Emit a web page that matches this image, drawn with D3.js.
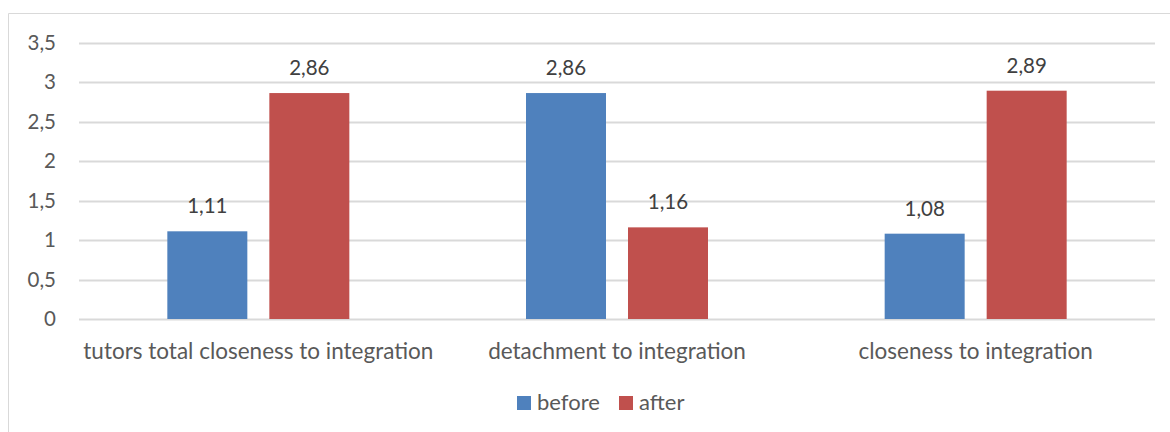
<!DOCTYPE html>
<html>
<head>
<meta charset="utf-8">
<script src="https://cdn.jsdelivr.net/npm/d3@7"></script>
<style>
  html, body { margin: 0; padding: 0; background: #fff; }
  svg text { font-family: Lato, "Open Sans", sans-serif; }
</style>
</head>
<body>
<svg id="chart" width="1170" height="432"></svg>
<script>
// Chart data
const categories = [
  "tutors total closeness to integration",
  "detachment to integration",
  "closeness to integration"
];
const seriesNames = ["before", "after"];
const beforeValues = [1.11, 2.86, 1.08];
const afterValues = [2.86, 1.16, 2.89];
const yTicks = [0, 0.5, 1, 1.5, 2, 2.5, 3, 3.5];
const seriesColors = ["#4f81bd", "#c0504d"];

const fmt = v => String(v).replace(".", ",");

const svg = d3.select("#chart");
const W = 1170, H = 432;

// Outer chart frame (left and top edges visible)
svg.append("path")
  .attr("d", `M8.5,${H} V13.5 H${W}`)
  .attr("fill", "none")
  .attr("stroke", "#d9d9d9")
  .attr("stroke-width", 1);

const plot = { left: 79, right: 1155, top: 42.5, bottom: 319 };

const y = d3.scaleLinear().domain([0, 3.5]).range([plot.bottom, plot.top]);
const x0 = d3.scaleBand().domain(categories).range([plot.left, plot.right]).paddingInner(0).paddingOuter(0);
const x1 = d3.scaleBand().domain(seriesNames).range([0, x0.bandwidth()]).paddingInner(0.2157).paddingOuter(0.866);

// Gridlines
svg.append("g").selectAll("line").data(yTicks).join("line")
  .attr("x1", plot.left).attr("x2", plot.right)
  .attr("y1", d => Math.round(y(d)) + 0.5).attr("y2", d => Math.round(y(d)) + 0.5)
  .attr("stroke", "#d9d9d9").attr("stroke-width", 2);

// Y axis tick labels
const yAxis = d3.axisLeft(y).tickValues(yTicks).tickFormat(fmt).tickSize(0).tickPadding(0);
const gy = svg.append("g").attr("transform", `translate(56,0)`).call(yAxis);
gy.select(".domain").remove();
gy.selectAll("text")
  .attr("fill", "#595959")
  .style("font-size", "20.5px")
  .style("font-family", "Lato, sans-serif");

// Bars
const series = [beforeValues, afterValues];
const groups = svg.append("g").selectAll("g").data(categories).join("g")
  .attr("transform", d => `translate(${x0(d)},0)`);

groups.selectAll("rect")
  .data((c, i) => seriesNames.map((s, k) => ({ s, v: series[k][i], k })))
  .join("rect")
  .attr("x", d => x1(d.s))
  .attr("width", x1.bandwidth())
  .attr("y", d => y(d.v))
  .attr("height", d => y(0) - y(d.v))
  .attr("fill", d => seriesColors[d.k]);

// Data labels
groups.selectAll("text.val")
  .data((c, i) => seriesNames.map((s, k) => ({ s, v: series[k][i], k })))
  .join("text")
  .attr("class", "val")
  .attr("x", d => x1(d.s) + x1.bandwidth() / 2)
  .attr("y", d => y(d.v) - 18)
  .attr("text-anchor", "middle")
  .attr("fill", "#404040")
  .style("font-size", "20.5px")
  .text(d => fmt(d.v));

// Category axis labels
const xAxis = d3.axisBottom(x0).tickSize(0).tickPadding(0);
const gx = svg.append("g").attr("transform", `translate(0,${plot.bottom})`).call(xAxis);
gx.select(".domain").remove();
gx.selectAll("text")
  .attr("dy", 0)
  .attr("y", 40)
  .attr("fill", "#595959")
  .style("font-size", "22.5px")
  .style("font-family", "Lato, sans-serif");

// Legend
const legend = svg.append("g");
const legendItems = [
  { name: "before", x: 517, color: seriesColors[0] },
  { name: "after", x: 619, color: seriesColors[1] }
];
const li = legend.selectAll("g").data(legendItems).join("g")
  .attr("transform", d => `translate(${d.x},396)`);
li.append("rect").attr("width", 14).attr("height", 14).attr("fill", d => d.color);
li.append("text")
  .attr("x", 20).attr("y", 14)
  .attr("fill", "#595959")
  .style("font-size", "22px")
  .text(d => d.name);
</script>
</body>
</html>
